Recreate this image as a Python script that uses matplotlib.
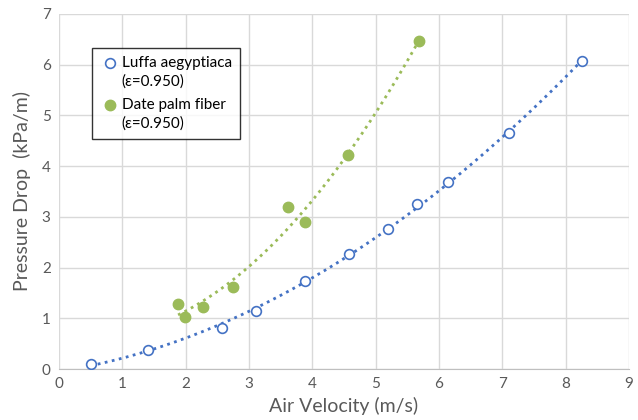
import numpy as np
import matplotlib.pyplot as plt
from matplotlib.legend_handler import HandlerLine2D

plt.rcParams['font.family'] = ['Lato', 'DejaVu Sans']

# Luffa aegyptiaca
luffa_v = [0.5, 1.4, 2.57, 3.11, 3.88, 4.58, 5.2, 5.65, 6.14, 7.1, 8.26]
luffa_dp = [0.1, 0.38, 0.81, 1.14, 1.73, 2.27, 2.76, 3.25, 3.69, 4.65, 6.07]

# Date palm fiber
palm_v = [1.88, 1.99, 2.27, 2.75, 3.62, 3.88, 4.56, 5.68]
palm_dp = [1.28, 1.03, 1.22, 1.62, 3.2, 2.9, 4.22, 6.47]

blue = '#4472C4'
green = '#9BBB59'
gray = '#595959'


class TopLineHandler(HandlerLine2D):
    # put the legend marker next to the first text line
    def create_artists(self, legend, orig_handle, xdescent, ydescent,
                       width, height, fontsize, trans):
        off = 0.6 * fontsize
        return super().create_artists(legend, orig_handle, xdescent, ydescent,
                                      width, height + 2 * off, fontsize, trans)


fig = plt.figure(figsize=(6.38, 4.2), dpi=100)
ax = fig.add_axes([0.0925, 0.1214, 0.8935, 0.8453])

# polynomial trendlines (order 2)
for v, dp, c in [(luffa_v, luffa_dp, blue), (palm_v, palm_dp, green)]:
    coef = np.polyfit(v, dp, 2)
    xs = np.linspace(min(v), max(v), 200)
    ax.plot(xs, np.polyval(coef, xs), linestyle=(0, (1, 1.6)), color=c, lw=2, zorder=2)

h1, = ax.plot(luffa_v, luffa_dp, 'o', ms=7, mfc='white', mec=blue, mew=1.2, zorder=3,
              label='Luffa aegyptiaca\n(ε=0.950)')
h2, = ax.plot(palm_v, palm_dp, 'o', ms=7.5, color=green, zorder=3,
              label='Date palm fiber\n(ε=0.950)')

ax.set_xlim(0, 9)
ax.set_ylim(0, 7)
ax.set_xticks(range(0, 10))
ax.set_yticks(range(0, 8))
ax.grid(True, color='#d9d9d9', lw=1)
ax.set_axisbelow(True)
for s in ['top', 'right', 'left']:
    ax.spines[s].set_visible(False)
ax.spines['bottom'].set_color('#bfbfbf')
ax.tick_params(length=0, labelsize=11, colors=gray, pad=6)
ax.set_xlabel('Air Velocity (m/s)', fontsize=14, color=gray, labelpad=4)
ax.set_ylabel('Pressure Drop  (kPa/m)', fontsize=14, color=gray, labelpad=8)

leg = ax.legend(loc='upper left', bbox_to_anchor=(0.058, 0.904), borderaxespad=0,
                fontsize=11, frameon=True, fancybox=False, handletextpad=0.05,
                handlelength=1.4, borderpad=0.5, labelspacing=0.62,
                handler_map={h1: TopLineHandler(), h2: TopLineHandler()})
for t in leg.get_texts():
    t.set_linespacing(1.4)
leg.get_frame().set_edgecolor('black')
leg.get_frame().set_linewidth(1)

fig.savefig('out.png', dpi=100)
